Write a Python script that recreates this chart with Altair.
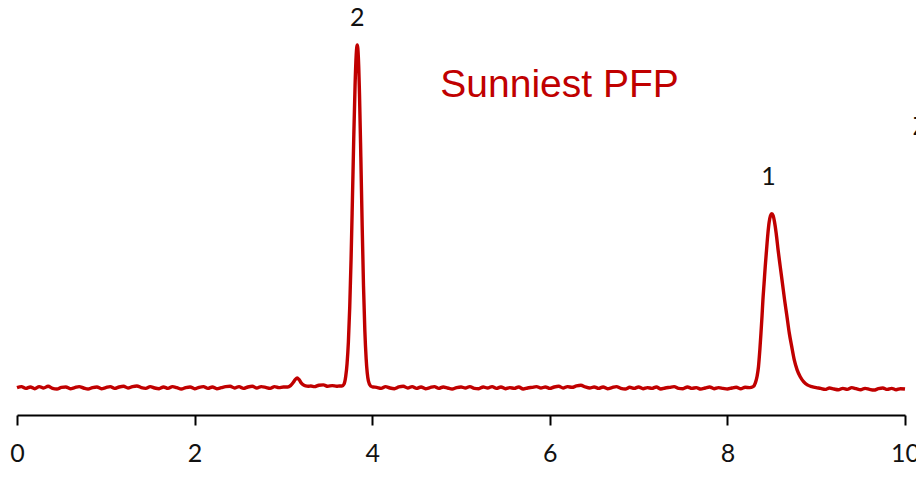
import pandas as pd
import altair as alt

def grid(start, n):
    return [round(start + i * 0.05, 2) for i in range(n)]

# 0.00 - 3.00 min
base1_t = grid(0.0, 61)
base1_v = [0.1, 0.4, -0.1, 0.3, -0.2, 0.4, 0.0, 0.5, -0.1, -0.3,
           0.2, 0.3, -0.2, 0.1, 0.4, 0.0, -0.3, 0.1, 0.3, -0.2,
           0.1, 0.4, -0.1, 0.3, 0.5, 0.0, 0.4, 0.6, 0.1, -0.1,
           0.4, 0.0, -0.2, 0.3, -0.1, 0.4, 0.1, -0.3, 0.1, 0.3,
           -0.2, 0.2, 0.4, -0.1, 0.3, -0.2, 0.1, 0.4, 0.5, 0.0,
           0.4, -0.1, 0.3, 0.5, 0.0, 0.4, 0.2, -0.1, 0.4, 0.1, 0.3]

# small impurity peak and shoulder before peak 2
small_t = [3.05, 3.08, 3.11, 3.135, 3.155, 3.175, 3.20, 3.225, 3.25, 3.28, 3.31,
           3.35, 3.40, 3.45, 3.50, 3.55, 3.60, 3.63]
small_v = [0.3, 0.7, 1.6, 2.5, 2.9, 2.5, 1.5, 0.9, 0.6, 0.5, 0.6,
           0.4, 0.8, 0.9, 0.5, 0.7, 0.5, 0.6]

# peak 2
peak2_t = [3.66, 3.682, 3.702, 3.717, 3.732, 3.747, 3.762, 3.777, 3.792, 3.807, 3.82,
           3.832, 3.844, 3.857, 3.872, 3.887, 3.902, 3.917, 3.932, 3.957, 3.982, 4.01]
peak2_v = [0.6, 1.1, 3.4, 7.1, 13.5, 23.6, 37.5, 54.6, 72.6, 88.2, 97.2,
           100.0, 96.5, 85.7, 67.4, 47.4, 29.8, 16.8, 8.5, 2.1, 0.6, 0.3]

# 4.05 - 8.25 min
base2_t = grid(4.05, 85)
base2_v = [0.2, -0.1, 0.4, 0.0, -0.2, 0.3, 0.5, 0.0, 0.4, -0.1,
           0.3, -0.2, 0.1, 0.4, -0.1, 0.3, 0.0, -0.3, 0.1, 0.3,
           0.0, 0.4, -0.1, -0.2, 0.3, 0.0, 0.4, -0.1, 0.3, -0.2,
           0.1, -0.1, 0.3, -0.3, 0.0, 0.2, 0.4, 0.0, 0.3, -0.1,
           0.3, 0.5, 0.0, 0.4, 0.2, 0.6, 0.8, 0.3, 0.0, 0.3,
           -0.1, 0.3, -0.2, 0.1, 0.4, -0.1, -0.3, 0.2, -0.1, 0.3,
           -0.2, 0.1, -0.1, 0.3, -0.3, 0.0, 0.2, 0.4, -0.1, -0.2,
           0.3, -0.1, 0.1, -0.3, 0.0, 0.3, -0.2, 0.1, -0.1, -0.3,
           0.0, 0.2, -0.2, 0.2, 0.1]

# peak 1 (tailing)
peak1_t = [8.29, 8.315, 8.335, 8.35, 8.365, 8.378, 8.39, 8.40, 8.413, 8.426, 8.44,
           8.456, 8.47, 8.485, 8.50, 8.515, 8.53, 8.55, 8.572, 8.595, 8.62, 8.644,
           8.67, 8.697, 8.725, 8.753, 8.785, 8.82, 8.86, 8.90, 8.95, 9.0]
peak1_v = [0.4, 1.5, 3.5, 6.2, 11.0, 16.0, 21.0, 25.7, 30.5, 35.4, 40.0,
           45.0, 48.3, 50.2, 50.8, 50.3, 48.5, 45.0, 40.0, 35.4, 30.5, 25.7,
           21.0, 16.0, 12.0, 8.2, 5.3, 3.3, 1.8, 0.9, 0.4, 0.1]

# 9.05 - 10.00 min
base3_t = grid(9.05, 20)
base3_v = [-0.1, -0.4, 0.0, -0.3, -0.5, -0.1, -0.4, 0.1, -0.2, -0.5,
           -0.1, -0.4, -0.6, -0.2, 0.0, -0.4, -0.1, -0.5, -0.2, -0.3]

times = base1_t + small_t + peak2_t + base2_t + peak1_t + base3_t
signal = base1_v + small_v + peak2_v + base2_v + peak1_v + base3_v

peak_labels = ["2", "1"]
peak_label_t = [3.832, 8.463]
peak_label_y = [108.0, 61.5]

trace = pd.DataFrame({"t": times, "s": signal})
labels = pd.DataFrame({"t": peak_label_t, "s": peak_label_y, "lab": peak_labels})

x_scale = alt.Scale(domain=[0, 10], nice=False, zero=False)
y_scale = alt.Scale(domain=[-7.87, 110.8], nice=False, zero=False)

line = alt.Chart(trace).mark_line(
    color="#c00000", strokeWidth=3.4, interpolate="monotone"
).encode(
    x=alt.X("t:Q", scale=x_scale,
            axis=alt.Axis(values=[0, 2, 4, 6, 8, 10], format="d", title=None, grid=False,
                          domainColor="black", domainWidth=2,
                          tickColor="black", tickWidth=2, tickSize=10,
                          labelFont="Lato", labelFontSize=25, labelColor="#111",
                          labelPadding=16, labelFlush=False)),
    y=alt.Y("s:Q", scale=y_scale, axis=None),
)

peak_text = alt.Chart(labels).mark_text(
    font="Lato", fontSize=25, color="#111", baseline="middle", align="center"
).encode(x=alt.X("t:Q", scale=x_scale), y=alt.Y("s:Q", scale=y_scale), text="lab:N")

name_text = alt.Chart(pd.DataFrame({"t": [4.767], "s": [84.8], "lab": ["Sunniest PFP"]})).mark_text(
    font="Liberation Sans", fontSize=39, color="#c00000", baseline="alphabetic", align="left"
).encode(x=alt.X("t:Q", scale=x_scale), y=alt.Y("s:Q", scale=y_scale), text="lab:N")

# edge of a neighbouring label that is cut off at the right border
edge_text = alt.Chart(pd.DataFrame({"t": [10.09], "s": [76.0], "lab": ["Z"]})).mark_text(
    font="Lato", fontSize=25, color="#111", baseline="middle", align="left"
).encode(x=alt.X("t:Q", scale=x_scale), y=alt.Y("s:Q", scale=y_scale), text="lab:N")

chart = (line + peak_text + name_text + edge_text).properties(
    width=888, height=407,
    autosize=alt.AutoSizeParams(type="none"),
    padding={"left": 9, "top": 0, "right": 11, "bottom": 55},
).configure_view(strokeWidth=0)

chart.save("out.html", embed_options={"renderer": "svg", "actions": False})
